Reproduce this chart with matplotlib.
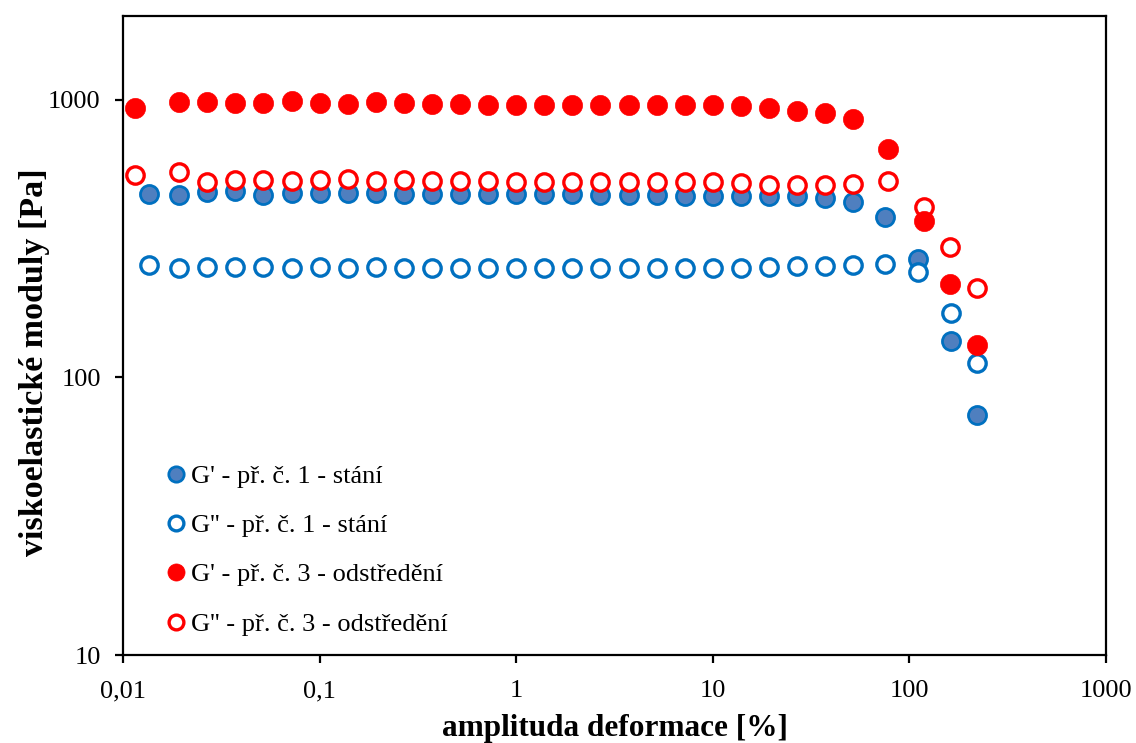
import matplotlib
matplotlib.use("Agg")
import matplotlib.pyplot as plt
from matplotlib.ticker import FixedLocator, FixedFormatter, NullLocator

plt.rcParams['font.family'] = ['Liberation Serif', 'DejaVu Serif']

# nominal strain amplitudes [%]
x_mid = [0.0193, 0.0268, 0.0373, 0.0518, 0.072, 0.1, 0.139, 0.193, 0.268, 0.373, 0.518, 0.72,
         1.0, 1.39, 1.93, 2.68, 3.73, 5.18, 7.2, 10, 13.9, 19.3, 26.8, 37.3, 51.8]

x_s1 = [0.0135] + x_mid + [75, 111, 163, 222]
x_s3 = [0.0115] + x_mid + [78, 118, 160, 220]

g1_storage = [458, 455, 465, 467, 455, 461, 461, 461, 461, 458, 458, 458, 458,
              458, 458, 458, 454, 454, 454, 451, 451, 451, 449, 449, 443, 427,
              379, 267, 135, 73.3]
g1_loss = [254, 247, 249, 249, 249, 248, 250, 248, 249, 247, 247, 247, 247,
           247, 247, 247, 247, 247, 247, 247, 247, 248, 250, 252, 252, 254,
           256, 239, 170, 113]
g3_storage = [936, 983, 981, 975, 975, 986, 973, 967, 978, 970, 967, 962, 959,
              959, 959, 954, 954, 954, 954, 954, 954, 946, 933, 910, 895, 849,
              662, 365, 216, 131]
g3_loss = [537, 550, 507, 514, 514, 511, 514, 518, 511, 514, 510, 510, 510,
           507, 507, 507, 505, 505, 505, 505, 505, 500, 494, 491, 494, 497,
           511, 410, 294, 209]

labels = ["G' - př. č. 1 - stání", "G'' - př. č. 1 - stání",
          "G' - př. č. 3 - odstředění", "G'' - př. č. 3 - odstředění"]

xticks = [0.01, 0.1, 1, 10, 100, 1000]
xticklabels = ["0,01", "0,1", "1", "10", "100", "1000"]
yticks = [10, 100, 1000]
yticklabels = ["10", "100", "1000"]

fig = plt.figure(figsize=(11.36, 7.43), dpi=100)
ax = fig.add_axes([123/1136, 1 - 655/743, (1106-123)/1136, (655-16)/743])

blue = '#0070C0'
blue_face = '#4F7FBF'
red = '#FF0000'

h1, = ax.plot(x_s1, g1_storage, 'o', ms=13, mfc=blue_face, mec=blue, mew=2.0, ls='none', zorder=2, clip_on=False)
h2, = ax.plot(x_s1, g1_loss, 'o', ms=12.5, mfc='white', mec=blue, mew=2.4, ls='none', zorder=3, clip_on=False)
h4, = ax.plot(x_s3, g3_loss, 'o', ms=12.5, mfc='white', mec=red, mew=2.4, ls='none', zorder=4, clip_on=False)
h3, = ax.plot(x_s3, g3_storage, 'o', ms=14.5, mfc=red, mec=red, mew=0.5, ls='none', zorder=5, clip_on=False)

ax.set_xscale('log')
ax.set_yscale('log')
ax.set_xlim(0.01, 1000)
ax.set_ylim(10, 2000)

ax.xaxis.set_major_locator(FixedLocator(xticks))
ax.xaxis.set_major_formatter(FixedFormatter(xticklabels))
ax.xaxis.set_minor_locator(NullLocator())
ax.yaxis.set_major_locator(FixedLocator(yticks))
ax.yaxis.set_major_formatter(FixedFormatter(yticklabels))
ax.yaxis.set_minor_locator(NullLocator())

ax.tick_params(axis='both', which='major', direction='out', length=6, width=1.6,
               labelsize=19, colors='black')
ax.tick_params(axis='y', pad=10)
ax.tick_params(axis='x', pad=12)
for s in ax.spines.values():
    s.set_linewidth(1.6)

ax.set_xlabel('amplituda deformace [%]', fontsize=22.5, fontweight='bold', va='center')
ax.xaxis.set_label_coords(0.5005, -0.115)
ax.set_ylabel('viskoelastické moduly [Pa]', fontsize=24.5, fontweight='bold', va='center')
ax.yaxis.set_label_coords(-0.0905, 0.4585)

ax.legend([h1, h2, h3, h4], labels, loc='lower left', bbox_to_anchor=(0.022, -0.003),
          frameon=False, fontsize=19, handlelength=0.8, handletextpad=0.15,
          labelspacing=0.98, markerscale=0.85, borderaxespad=0.4)

fig.savefig('out.png', dpi=100)
